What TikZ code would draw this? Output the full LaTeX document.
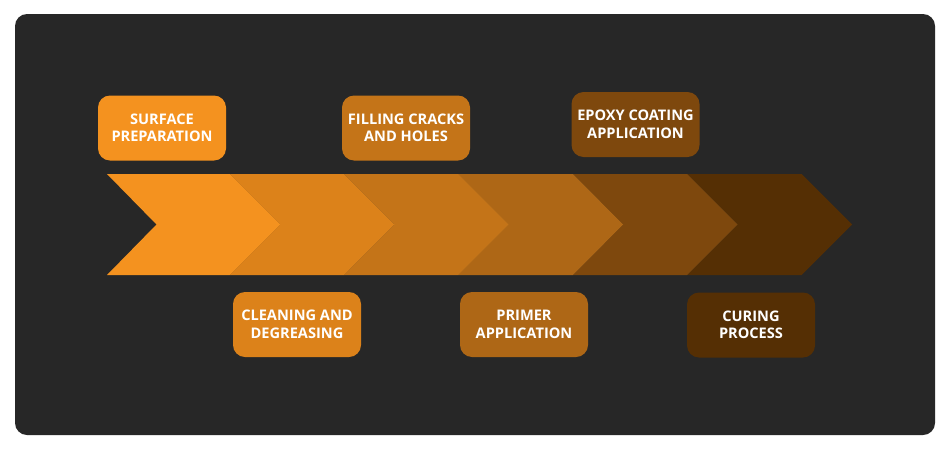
\documentclass[tikz,border=0pt]{standalone}
\usepackage{fontspec}
\setsansfont{Open Sans}
\usepackage{tikz}
\usetikzlibrary{positioning}

\definecolor{panel}{HTML}{272727}
\definecolor{stepA}{HTML}{F4921F}
\definecolor{stepB}{HTML}{DC821A}
\definecolor{stepC}{HTML}{C47418}
\definecolor{stepD}{HTML}{AE6716}
\definecolor{stepE}{HTML}{7E480D}
\definecolor{stepF}{HTML}{552F04}

\begin{document}
\begin{tikzpicture}[
    x=1pt, y=-1pt,
    stepbox/.style={minimum width=128pt, minimum height=65pt, rounded corners=12pt,
        inner sep=0pt, align=center, text=white,
        font=\sffamily\bfseries\fontsize{14.6}{17.5}\selectfont},
    band/.style={draw=none}
]

% Page and dark panel
\fill[white] (0,0) rectangle (950,450);
\useasboundingbox (0,0) rectangle (950,450);
\fill[panel, rounded corners=12pt] (15,14) rectangle (935,435);

% Chevron band (each notch sits on the tip before it)
\fill[stepF, band] (687.2,174) -- (801.6,174) -- (852,224.5) -- (801.6,275) -- (687.2,275) -- (737.6,224.5) -- cycle;
\fill[stepE, band] (572.8,174) -- (687.2,174) -- (737.6,224.5) -- (687.2,275) -- (572.8,275) -- (623.2,224.5) -- cycle;
\fill[stepD, band] (458.4,174) -- (572.8,174) -- (623.2,224.5) -- (572.8,275) -- (458.4,275) -- (508.8,224.5) -- cycle;
\fill[stepC, band] (344,174) -- (458.4,174) -- (508.8,224.5) -- (458.4,275) -- (344,275) -- (394.4,224.5) -- cycle;
\fill[stepB, band] (229.6,174) -- (344,174) -- (394.4,224.5) -- (344,275) -- (229.6,275) -- (280,224.5) -- cycle;
\fill[stepA, band] (107,174) -- (229.6,174) -- (280,224.5) -- (229.6,275) -- (107,275) -- (156.5,224.5) -- cycle;

% Step labels above the band
\node[stepbox, fill=stepA] (surface) at (162,128) {SURFACE\\PREPARATION};
\node[stepbox, fill=stepC] (filling) at (406,128) {FILLING CRACKS\\AND HOLES};
\node[stepbox, fill=stepE] (epoxy) at (635.5,124.5) {EPOXY COATING\\APPLICATION};

% Step labels below the band
\node[stepbox, fill=stepB] (cleaning) at (297,324.5) {CLEANING AND\\DEGREASING};
\node[stepbox, fill=stepD] (primer) at (524,324.5) {PRIMER\\APPLICATION};
\node[stepbox, fill=stepF] (curing) at (751,325) {CURING\\PROCESS};

\end{tikzpicture}
\end{document}
